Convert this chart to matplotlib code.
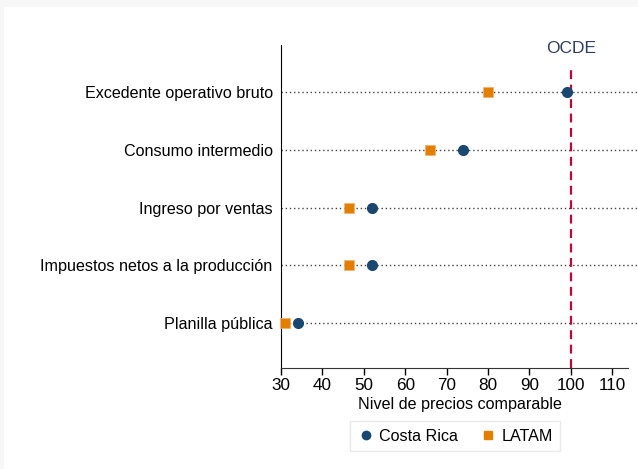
import matplotlib
matplotlib.use("Agg")
import matplotlib.pyplot as plt
from matplotlib.lines import Line2D
from matplotlib.patches import Rectangle

categories = ["Excedente operativo bruto", "Consumo intermedio", "Ingreso por ventas",
              "Impuestos netos a la producción", "Planilla pública"]
costa_rica = [99, 74, 52, 52, 34]
latam = [80, 66, 46.5, 46.5, 31]
ocde = 100
xticks = [30, 40, 50, 60, 70, 80, 90, 100, 110]

plt.rcParams['font.family'] = ['Liberation Sans', 'DejaVu Sans']

fig = plt.figure(figsize=(6.38, 4.69), dpi=100)
fig.patch.set_facecolor('white')
# light gray screenshot margins (left and top)
fig.patches.append(Rectangle((0, 0), 4/638, 1, transform=fig.transFigure,
                             facecolor='#f7f7f7', edgecolor='none', zorder=-5))
fig.patches.append(Rectangle((0, 1 - 7/469), 1, 7/469, transform=fig.transFigure,
                             facecolor='#f7f7f7', edgecolor='none', zorder=-5))

ax = fig.add_axes([281/638, 101/469, 1 - 281/638, (368 - 45)/469])
ax.set_zorder(2)
ax.set_facecolor('none')
n = len(categories)
ypos = list(range(n, 0, -1))

for y in ypos:
    ax.axhline(y, color='#444444', linestyle=(0, (1, 2)), linewidth=1.0, zorder=1)

ax.axvline(ocde, ymin=0, ymax=(5.47 - 0.221) / (5.814 - 0.221), color='#c10534',
           linestyle=(0, (4, 2.5)), linewidth=1.6, zorder=2)
ax.text(ocde, 5.76, "OCDE", ha='center', va='center', fontsize=12.5, color='#2d3d63')

ax.plot(latam, ypos, linestyle='none', marker='s', markersize=7, color='#e37e00',
        markeredgecolor='#f0b070', markeredgewidth=0.5, zorder=3, clip_on=False)
ax.plot(costa_rica, ypos, linestyle='none', marker='o', markersize=7, color='#1a476f',
        zorder=4, clip_on=False)

ax.set_xlim(30, 30 + (638 - 281) / 4.14)
ax.set_ylim(0.221, 5.814)
ax.set_yticks(ypos)
ax.set_yticklabels(categories, fontsize=11.6)
ax.tick_params(axis='y', length=0, pad=6)
ax.set_xticks(xticks)
ax.set_xticklabels([str(t) for t in xticks], fontsize=12.3)
ax.tick_params(axis='x', length=5, width=1, pad=2)
ax.spines['top'].set_visible(False)
ax.spines['right'].set_visible(False)
ax.spines['bottom'].set_bounds(30, 30 + (628 - 281) / 4.14)
ax.spines['bottom'].set_color('#333333')
ax.spines['left'].set_color('black')
ax.set_xlabel("Nivel de precios comparable", fontsize=11.6, labelpad=3)

handles = [Line2D([], [], linestyle='none', marker='o', markersize=6, color='#1a476f'),
           Line2D([], [], linestyle='none', marker='s', markersize=6, color='#e37e00')]
leg = fig.legend(handles, ["Costa Rica", "LATAM"], loc='center', ncol=2,
                 bbox_to_anchor=(455/638, 1 - 436/469), fontsize=11.6, frameon=True,
                 fancybox=False, edgecolor='#e5e5e5', handletextpad=0.3, columnspacing=1.3,
                 borderpad=0.45, handlelength=1.1)
leg.get_frame().set_linewidth(1.0)

fig.savefig("out.png", dpi=100, facecolor=fig.get_facecolor())
